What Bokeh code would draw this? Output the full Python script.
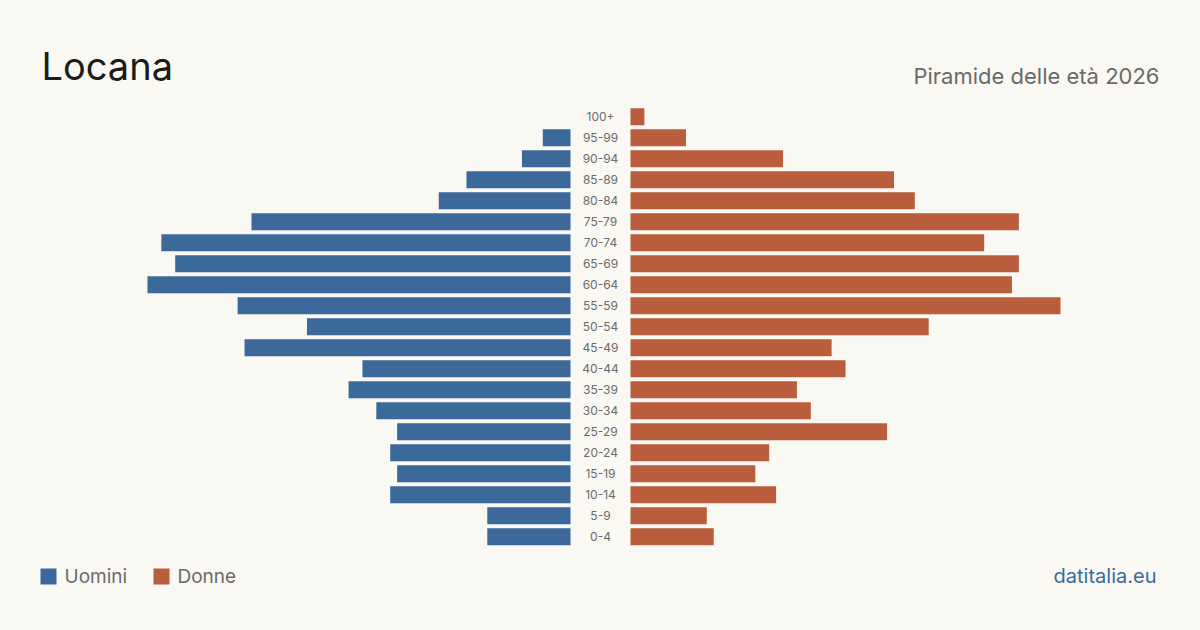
from bokeh.plotting import figure
from bokeh.models import Range1d, Label, ColumnDataSource
from bokeh.embed import file_html
from bokeh.resources import INLINE

# Data (ordered from 0-4 up to 100+)
age_groups = ["0-4", "5-9", "10-14", "15-19", "20-24", "25-29", "30-34", "35-39",
              "40-44", "45-49", "50-54", "55-59", "60-64", "65-69", "70-74",
              "75-79", "80-84", "85-89", "90-94", "95-99", "100+"]
uomini = [12, 12, 26, 25, 26, 25, 28, 32, 30, 47, 38, 48, 61, 57, 59, 46, 19, 15, 7, 4, 0]
donne = [12, 11, 21, 18, 20, 37, 26, 24, 31, 29, 43, 62, 55, 56, 51, 56, 41, 38, 22, 8, 2]

title_text = "Locana"
subtitle_text = "Piramide delle età 2026"
legend_labels = ["Uomini", "Donne"]
source_text = "datitalia.eu"

W, H = 1200, 630
BG = "#f9f8f3"
BLUE = "#3b6a9a"
ORANGE = "#b95d3c"
FONT = "Inter"

K = 6.935          # px per person
ROW = 21.0         # px per row
CX = 600.0         # center x px
Y0 = 536.3         # px of row 0 center
GAP = 30.0 / K     # half gap in data units

def dx(px):
    return (px - CX) / K

def dy(py):
    return (Y0 - py) / ROW

p = figure(width=W, height=H, output_backend="svg", toolbar_location=None,
           x_range=Range1d(dx(0), dx(W)), y_range=Range1d(dy(H), dy(0)),
           x_axis_location=None, y_axis_location=None, min_border=0,
           background_fill_color=BG, border_fill_color=BG, outline_line_color=None)
p.grid.visible = False

idx = list(range(len(age_groups)))
src = ColumnDataSource(dict(
    y=idx,
    m_left=[-GAP - v for v in uomini],
    m_right=[-GAP] * len(idx),
    f_left=[GAP] * len(idx),
    f_right=[GAP + v for v in donne],
    label=age_groups,
    zero=[0] * len(idx),
))

bh = 17.0 / ROW
p.hbar(y="y", left="m_left", right="m_right", height=bh, source=src,
       fill_color=BLUE, line_color=None)
p.hbar(y="y", left="f_left", right="f_right", height=bh, source=src,
       fill_color=ORANGE, line_color=None)

p.text(x="zero", y="y", text="label", source=src, text_align="center",
       text_baseline="middle", text_font_size="12px", text_color="#6b6b6b",
       text_font={"value": FONT})

def add_label(text, px, py, size, color, align="left"):
    # py is the desired baseline; compensate renderer offset
    shift = 0.37 * size
    p.add_layout(Label(x=dx(px), y=dy(py - shift), text=text, text_font=FONT,
                       text_font_size=f"{size}px", text_color=color, text_align=align,
                       text_baseline="alphabetic"))

add_label(title_text, 41, 80, 38, "#1c1c1c")
add_label(subtitle_text, 1159, 83.5, 22, "#6a6a6a", align="right")

# legend
sq = 16.0
p.rect(x=[dx(40 + sq / 2), dx(153 + sq / 2)], y=[dy(576), dy(576)],
       width=sq / K, height=sq / ROW, fill_color=[BLUE, ORANGE], line_color=None)
add_label(legend_labels[0], 64, 583, 19, "#6a6a6a")
add_label(legend_labels[1], 177, 583, 19, "#6a6a6a")

add_label(source_text, 1156, 583, 20, "#3b6a9e", align="right")

open("out.html", "w").write(file_html(p, INLINE))
